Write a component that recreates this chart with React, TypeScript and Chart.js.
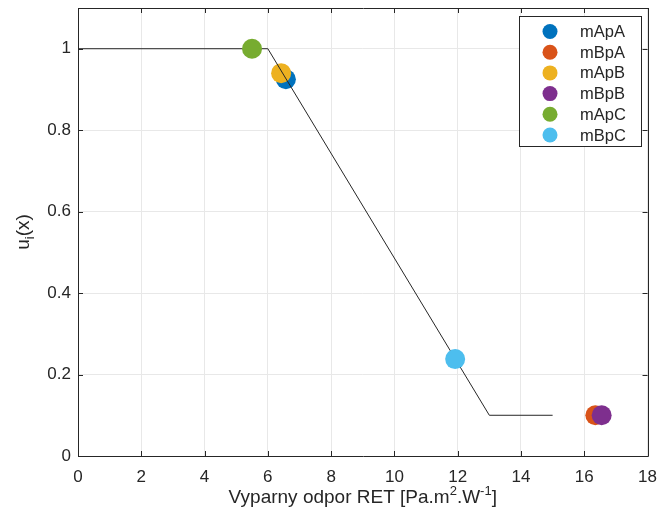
import React, { useEffect, useRef } from "react";
import { Chart, registerables } from "chart.js";

Chart.register(...registerables);

const seriesNames = ["mApA", "mBpA", "mApB", "mBpB", "mApC", "mBpC"];
const seriesColors = ["#0072BD", "#D95319", "#EDB120", "#7E2F8E", "#77AC30", "#4DBEEE"];
const seriesX = [6.57, 16.35, 6.42, 16.55, 5.5, 11.92];
const seriesY = [0.925, 0.1, 0.94, 0.1, 1.0, 0.238];

const curveX = [0, 6, 13, 15];
const curveY = [1, 1, 0.1, 0.1];

const xTicks = [0, 2, 4, 6, 8, 10, 12, 14, 16, 18];
const yTicks = [0, 0.2, 0.4, 0.6, 0.8, 1];

const FONT = "'Liberation Sans', Arial, Helvetica, sans-serif";
const TEXT = "#262626";

// canvas is shifted up by DY so the plot area sits where the reference has it
const PAD_TOP = 20;
const DY = PAD_TOP - 8;
const CW = 668;
const CH = 519 + DY;

const decorPlugin = {
  id: "decor",
  afterDraw(chart: any) {
    const ctx = chart.ctx as CanvasRenderingContext2D;
    const { left, right, top, bottom } = chart.chartArea;
    const xs = chart.scales.x;
    const ys = chart.scales.y;
    ctx.save();
    // box
    ctx.strokeStyle = TEXT;
    ctx.lineWidth = 1;
    ctx.beginPath();
    ctx.rect(Math.round(left) + 0.5, Math.round(top) + 0.5, Math.round(right - left), Math.round(bottom - top));
    ctx.stroke();
    // inner ticks
    ctx.beginPath();
    xTicks.forEach((v) => {
      const px = Math.round(xs.getPixelForValue(v)) + 0.5;
      ctx.moveTo(px, bottom);
      ctx.lineTo(px, bottom - 5);
      ctx.moveTo(px, top);
      ctx.lineTo(px, top + 5);
    });
    yTicks.forEach((v) => {
      const py = Math.round(ys.getPixelForValue(v)) + 0.5;
      ctx.moveTo(left, py);
      ctx.lineTo(left + 5, py);
      ctx.moveTo(right, py);
      ctx.lineTo(right - 5, py);
    });
    ctx.stroke();

    // page coordinates from here on
    ctx.translate(0, DY);

    // x title with superscripts
    ctx.fillStyle = TEXT;
    ctx.textBaseline = "alphabetic";
    const parts: [string, boolean][] = [
      ["Vyparny odpor RET [Pa.m", false],
      ["2", true],
      [".W", false],
      ["-1", true],
      ["]", false],
    ];
    const big = "19px " + FONT;
    const small = "13px " + FONT;
    let total = 0;
    parts.forEach(([t, sup]) => {
      ctx.font = sup ? small : big;
      total += ctx.measureText(t).width;
    });
    let cx = (left + right) / 2 - total / 2;
    const by = 503;
    parts.forEach(([t, sup]) => {
      ctx.font = sup ? small : big;
      ctx.fillText(t, cx, sup ? by - 8 : by);
      cx += ctx.measureText(t).width;
    });

    // y title u_i(x)
    ctx.save();
    ctx.translate(29, 232);
    ctx.rotate(-Math.PI / 2);
    const yparts: [string, boolean][] = [
      ["u", false],
      ["i", true],
      ["(x)", false],
    ];
    let tw = 0;
    yparts.forEach(([t, sub]) => {
      ctx.font = sub ? small : big;
      tw += ctx.measureText(t).width;
    });
    let yx = -tw / 2;
    yparts.forEach(([t, sub]) => {
      ctx.font = sub ? small : big;
      ctx.fillText(t, yx, sub ? 5 : 0);
      yx += ctx.measureText(t).width;
    });
    ctx.restore();

    // legend
    const lx = 519.5, ly = 16.5, lw = 122, lh = 130;
    ctx.fillStyle = "#ffffff";
    ctx.fillRect(lx, ly, lw, lh);
    ctx.strokeStyle = TEXT;
    ctx.strokeRect(lx, ly, lw, lh);
    ctx.font = "16.5px " + FONT;
    ctx.textBaseline = "middle";
    seriesNames.forEach((name, i) => {
      const rowY = 31.5 + i * 20.7;
      ctx.fillStyle = seriesColors[i];
      ctx.beginPath();
      ctx.arc(550, rowY, 7.5, 0, Math.PI * 2);
      ctx.fill();
      ctx.fillStyle = TEXT;
      ctx.fillText(name, 580, rowY + 1);
    });
    ctx.restore();
  },
};

export default function App() {
  const ref = useRef<HTMLCanvasElement | null>(null);
  useEffect(() => {
    document.body.style.margin = "0";
    const pointSets = seriesNames.map((name, i) => ({
      type: "scatter" as const,
      label: name,
      data: [{ x: seriesX[i], y: seriesY[i] }],
      backgroundColor: seriesColors[i],
      borderColor: seriesColors[i],
      pointRadius: 10,
      pointBorderWidth: 0,
      showLine: false,
    }));
    const lineSet = {
      type: "line" as const,
      label: "curve",
      data: curveX.map((x, i) => ({ x, y: curveY[i] })),
      borderColor: "#262626",
      borderWidth: 1,
      pointRadius: 0,
      fill: false,
      tension: 0,
    };
    // Chart.js paints the first dataset on top, so list top-most first
    const datasets = [pointSets[5], pointSets[4], lineSet, pointSets[3], pointSets[2], pointSets[1], pointSets[0]];
    const chart = new Chart(ref.current as HTMLCanvasElement, {
      type: "scatter",
      data: { datasets: datasets as any },
      options: {
        animation: false,
        responsive: false,
        maintainAspectRatio: false,
        layout: { padding: { left: 0, top: PAD_TOP, right: CW - 648, bottom: 0 } },
        plugins: { legend: { display: false }, tooltip: { enabled: false } },
        scales: {
          x: {
            type: "linear",
            min: 0,
            max: 18,
            afterBuildTicks: (s: any) => {
              s.ticks = xTicks.map((v) => ({ value: v }));
            },
            afterFit: (s: any) => {
              s.height = 63;
            },
            grid: { color: "#e8e8e8", drawTicks: false },
            border: { display: false },
            ticks: {
              color: TEXT,
              font: { family: FONT, size: 17 },
              padding: 11,
              maxRotation: 0,
              callback: (v: any) => String(v),
            },
          },
          y: {
            type: "linear",
            min: 0,
            max: 1.1,
            afterBuildTicks: (s: any) => {
              s.ticks = yTicks.map((v) => ({ value: v }));
            },
            afterFit: (s: any) => {
              s.width = 78;
            },
            grid: { color: "#e8e8e8", drawTicks: false },
            border: { display: false },
            ticks: {
              color: TEXT,
              font: { family: FONT, size: 17 },
              padding: 7,
              callback: (v: any) => String(Math.round(v * 10) / 10),
            },
          },
        },
      },
      plugins: [decorPlugin],
    });
    return () => chart.destroy();
  }, []);
  return (
    <div style={{ width: 659, height: 519, overflow: "hidden", position: "relative" }}>
      <canvas
        ref={ref}
        width={CW}
        height={CH}
        style={{ display: "block", position: "absolute", left: 0, top: -DY }}
      />
    </div>
  );
}
